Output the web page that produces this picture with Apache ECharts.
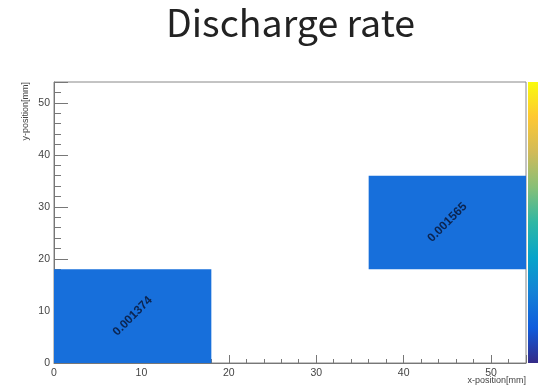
<!DOCTYPE html>
<html>
<head>
<meta charset="utf-8">
<script src="https://cdn.jsdelivr.net/npm/echarts@6/dist/echarts.min.js"></script>
<style>html,body{margin:0;padding:0;background:#fff}#c{width:538px;height:388px}</style>
</head>
<body>
<div id="c"></div>
<script>
// ---- data ----
const xStart = [0, 36];
const xEnd = [18, 54];
const yStart = [0, 18];
const yEnd = [18, 36];
const rates = [0.001374, 0.001565];
const xMajorTicks = [0, 10, 20, 30, 40, 50];
const yMajorTicks = [0, 10, 20, 30, 40, 50];
const paletteStops = ['#352a87', '#0f5cdd', '#1481d6', '#06a4ca', '#2eb7a4', '#87bf77', '#d1bb59', '#fec832', '#f9fb0e'];

const cellData = rates.map((v, i) => [xStart[i], xEnd[i], yStart[i], yEnd[i], v]);

const chart = echarts.init(document.getElementById('c'));
const tickLabelStyle = { color: '#444', fontFamily: 'Liberation Sans', fontSize: 10.5 };

chart.setOption({
  animation: false,
  backgroundColor: '#fff',
  title: {
    text: 'Discharge rate',
    left: 161, top: -1,
    textStyle: { fontFamily: 'Noto Sans CJK JP', fontWeight: 'normal', fontSize: 37.5, color: '#222' }
  },
  grid: { left: 54, right: 12, top: 82, bottom: 25, show: true, borderColor: '#888', borderWidth: 1,
          containLabel: false, outerBoundsMode: 'none' },
  xAxis: [
    {
      type: 'value', min: 0, max: 54, interval: 10, position: 'bottom',
      axisLine: { show: true, lineStyle: { color: '#777' } },
      axisTick: { show: true, inside: true, length: 8, lineStyle: { color: '#777' } },
      axisLabel: { ...tickLabelStyle, margin: 5, formatter: v => xMajorTicks.includes(v) ? String(v) : '' },
      splitLine: { show: false }
    },
    {
      type: 'value', min: 0, max: 54, interval: 2, position: 'bottom',
      axisLine: { show: false },
      axisTick: { show: true, inside: true, length: 4, lineStyle: { color: '#777' } },
      axisLabel: { show: false }, splitLine: { show: false }
    }
  ],
  yAxis: [
    {
      type: 'value', min: 0, max: 54, interval: 10, position: 'left',
      axisLine: { show: true, lineStyle: { color: '#777' } },
      axisTick: { show: true, inside: true, length: 14, lineStyle: { color: '#777' } },
      axisLabel: { ...tickLabelStyle, margin: 4, formatter: v => yMajorTicks.includes(v) ? String(v) : '' },
      splitLine: { show: false },
      name: 'y-position[mm]', nameLocation: 'end', nameGap: 0, nameRotate: 90,
      nameTextStyle: { fontFamily: 'Liberation Sans', fontSize: 9, color: '#444', align: 'right', verticalAlign: 'bottom', padding: [0, 0, 24, 0] }
    },
    {
      type: 'value', min: 0, max: 54, interval: 2, position: 'left',
      axisLine: { show: false },
      axisTick: { show: true, inside: true, length: 7, lineStyle: { color: '#777' } },
      axisLabel: { show: false }, splitLine: { show: false }
    }
  ],
  series: [{
    type: 'custom',
    xAxisIndex: 0, yAxisIndex: 0,
    data: cellData,
    renderItem: function (params, api) {
      const p0 = api.coord([api.value(0), api.value(2)]);
      const p1 = api.coord([api.value(1), api.value(3)]);
      const val = api.value(4);
      return {
        type: 'group',
        children: [
          { type: 'rect', shape: { x: p0[0], y: p1[1], width: p1[0] - p0[0], height: p0[1] - p1[1] },
            style: { fill: '#176fdb', stroke: null } },
          { type: 'text', x: (p0[0] + p1[0]) / 2, y: (p0[1] + p1[1]) / 2, rotation: Math.PI / 4,
            style: { text: String(val), align: 'center', verticalAlign: 'middle', fill: '#0b2450',
                     font: 'bold 12px "Liberation Sans"' } }
        ]
      };
    },
    z: 1
  }],
  graphic: [
    {
      type: 'rect', left: 528, top: 82, shape: { width: 12, height: 281 },
      style: { fill: new echarts.graphic.LinearGradient(0, 1, 0, 0,
        paletteStops.map((c, i) => ({ offset: i / (paletteStops.length - 1), color: c }))) }
    },
    {
      type: 'text', right: 12, top: 376,
      style: { text: 'x-position[mm]', fontFamily: 'Liberation Sans', fontSize: 9, fill: '#444' }
    }
  ]
});
</script>
</body>
</html>
